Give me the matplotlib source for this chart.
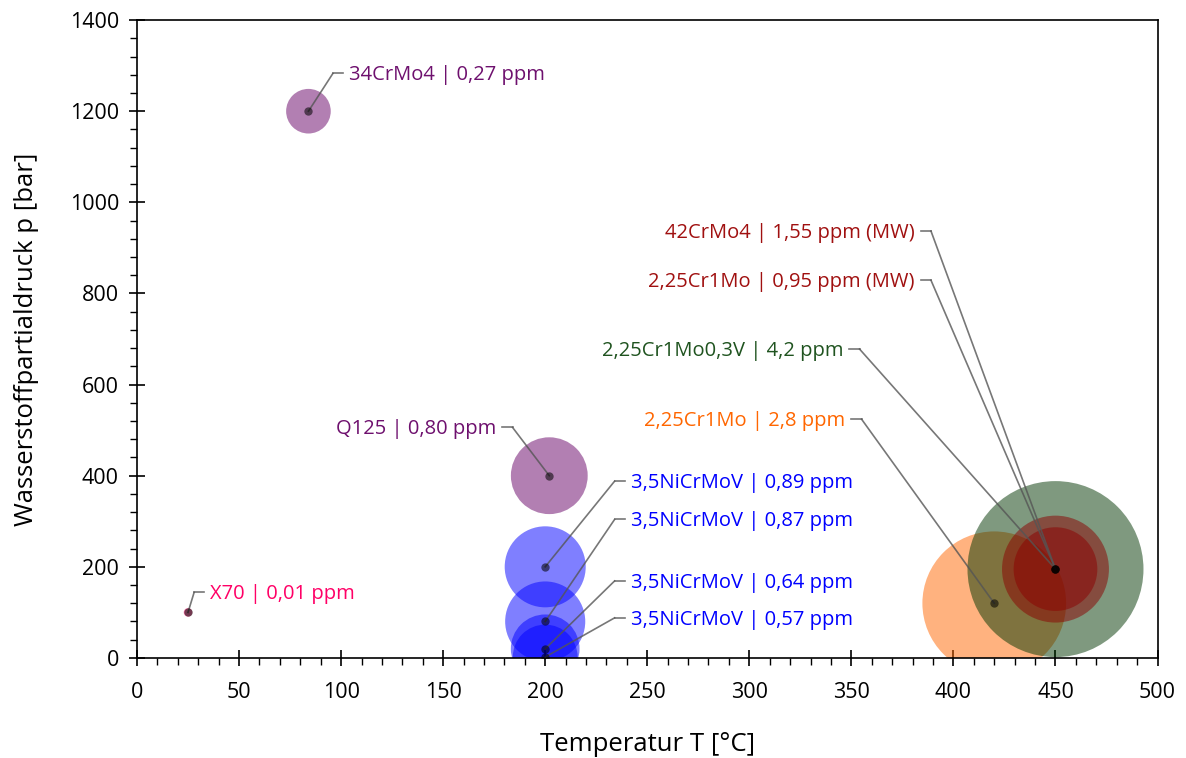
import numpy as np
import matplotlib
matplotlib.use("Agg")
import matplotlib.pyplot as plt
from matplotlib.ticker import MultipleLocator

plt.rcParams["font.family"] = ["Open Sans", "DejaVu Sans"]

# Werkstoffe: Temperatur [°C], Druck [bar], Wasserstoffgehalt [ppm]
labels = [
    "X70 | 0,01 ppm",
    "34CrMo4 | 0,27 ppm",
    "Q125 | 0,80 ppm",
    "3,5NiCrMoV | 0,89 ppm",
    "3,5NiCrMoV | 0,87 ppm",
    "3,5NiCrMoV | 0,64 ppm",
    "3,5NiCrMoV | 0,57 ppm",
    "2,25Cr1Mo | 2,8 ppm",
    "2,25Cr1Mo0,3V | 4,2 ppm",
    "42CrMo4 | 1,55 ppm (MW)",
    "2,25Cr1Mo | 0,95 ppm (MW)",
]
temperature = [25, 84, 202, 200, 200, 200, 200, 420, 450, 450, 450]
pressure = [100, 1200, 400, 200, 80, 20, 2, 120, 195, 195, 195]
h_content = [0.01, 0.27, 0.80, 0.89, 0.87, 0.64, 0.57, 2.8, 4.2, 1.55, 0.95]

bubble_colors = ["#FF0066", "#660066", "#660066", "#0000FF", "#0000FF", "#0000FF",
                 "#0000FF", "#FF6600", "#003500", "#8C0000", "#8C0000"]
text_colors = ["#FF0066", "#6E106E", "#6E106E", "#0000FF", "#0000FF", "#0000FF",
               "#0000FF", "#FF6600", "#1F531F", "#A01010", "#A01010"]

# Beschriftungsposition (Datenkoordinaten) und Ausrichtung
label_pos = [(36, 140, "left"), (104, 1279, "left"), (176, 502, "right"),
             (242, 384, "left"), (242, 300, "left"), (242, 165, "left"),
             (242, 84, "left"), (347, 520, "right"), (346, 674, "right"),
             (381, 933, "right"), (381, 825, "right")]

fig = plt.figure(figsize=(11.86, 7.58), dpi=100)
ax = fig.add_axes([0.1155, 0.132, 0.8605, 0.8415])

# Blasenfläche proportional zum Wasserstoffgehalt
size_scale = 3823
for i in range(len(labels)):
    ax.scatter(temperature[i], pressure[i], s=h_content[i] * size_scale,
               color=bubble_colors[i], alpha=0.5, edgecolors="none", zorder=2 + i * 0.01)

for i, (tx, ty, ha) in enumerate(label_pos):
    x, y = temperature[i], pressure[i]
    if ha == "left":
        stub = [tx - 8, tx - 3]
    else:
        stub = [tx + 8, tx + 3]
    sx, sy = stub[0], ty + 4
    ax.plot([x, sx], [y, sy], color="#555555", lw=1.2, alpha=0.8, zorder=4)
    ax.plot(stub, [sy, sy], color="#555555", lw=1.2, alpha=0.8, zorder=4)
    ax.plot(x, y, "o", color="black", ms=6, alpha=0.55, mec="none", zorder=5)
    ax.text(tx, ty, labels[i], ha=ha, va="center", fontsize=14.5,
            color=text_colors[i], zorder=6)

ax.set_xlim(0, 500)
ax.set_ylim(0, 1400)
ax.xaxis.set_major_locator(MultipleLocator(50))
ax.xaxis.set_minor_locator(MultipleLocator(10))
ax.yaxis.set_major_locator(MultipleLocator(200))
ax.yaxis.set_minor_locator(MultipleLocator(40))
ax.tick_params(which="major", direction="inout", length=11, width=1.2,
               labelsize=15.5)
ax.tick_params(which="minor", direction="out", length=5, width=1.0)
ax.tick_params(axis="x", which="major", pad=12)
ax.tick_params(axis="y", which="major", pad=7.5)

for side in ["left", "bottom", "top", "right"]:
    ax.spines[side].set_linewidth(1.2)
    ax.spines[side].set_color("black")

ax.set_xlabel("Temperatur T [°C]", fontsize=18.5, labelpad=21)
ax.set_ylabel("Wasserstoffpartialdruck p [bar]", fontsize=18.5, labelpad=22)

fig.savefig("out.png", dpi=100)
